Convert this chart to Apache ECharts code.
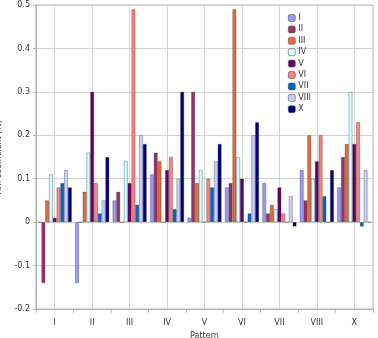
<!DOCTYPE html>
<html>
<head>
<meta charset="utf-8">
<script src="https://cdn.jsdelivr.net/npm/echarts@6/dist/echarts.min.js"></script>
<style>
  html, body { margin: 0; padding: 0; background: #fff; }
  #main { width: 378px; height: 338px; }
</style>
</head>
<body>
<div id="main"></div>
<script>
// 横轴的模式
const patterns = ['I', 'II', 'III', 'IV', 'V', 'VI', 'VII', 'VIII', 'X']
// 每个系列的名称和颜色
const seriesNames = ['I', 'II', 'III', 'IV', 'V', 'VI', 'VII', 'VIII', 'X']
const seriesColors = ['#9999ff', '#993366', '#e8693c', '#ccffff', '#660066', '#ff8080', '#0066cc', '#ccccff', '#000080']

// 各系列在每个模式上的值
const valuesI = [0, -0.14, 0.05, 0.11, 0.01, 0.08, 0.09, 0.12, 0.08]
const valuesII = [-0.14, 0, 0.07, 0.16, 0.30, 0.09, 0.02, 0.05, 0.15]
const valuesIII = [0.05, 0.07, 0, 0.14, 0.09, 0.49, 0.04, 0.20, 0.18]
const valuesIV = [0.11, 0.16, 0.14, 0, 0.12, 0.15, 0.03, 0.10, 0.30]
const valuesV = [0.01, 0.30, 0.09, 0.12, 0, 0.10, 0.08, 0.14, 0.18]
const valuesVI = [0.08, 0.09, 0.49, 0.15, 0.10, 0, 0.02, 0.20, 0.23]
const valuesVII = [0.09, 0.02, 0.04, 0.03, 0.08, 0.02, 0, 0.06, -0.01]
const valuesVIII = [0.12, 0.05, 0.20, 0.10, 0.14, 0.20, 0.06, 0, 0.12]
const valuesX = [0.08, 0.15, 0.18, 0.30, 0.18, 0.23, -0.01, 0.12, 0]

const allValues = [valuesI, valuesII, valuesIII, valuesIV, valuesV, valuesVI, valuesVII, valuesVIII, valuesX]

// 半格的隐藏轴，只用来在每个类目中间画竖网格线
const halfSlots = patterns.flatMap(p => [p + 'a', p + 'b'])

const font = 'DejaVu Sans'
const chart = echarts.init(document.getElementById('main'))

const option = {
  animation: false,
  textStyle: { fontFamily: font },
  grid: {
    left: 36, right: 5, top: 5, bottom: 29,
    outerBoundsMode: 'none',
    containLabel: false,
    show: true, borderColor: '#b3b3b3', borderWidth: 1
  },
  legend: {
    orient: 'vertical',
    left: 283, top: 9,
    itemWidth: 7, itemHeight: 7, itemGap: 3.4,
    textStyle: { fontSize: 8, color: '#333', fontFamily: font, padding: [0, 0, 0, -2] },
    data: seriesNames,
    itemStyle: { borderColor: '#555', borderWidth: 0.6 }
  },
  xAxis: [
    {
      type: 'category',
      data: patterns,
      name: 'Pattern',
      nameLocation: 'middle',
      nameGap: 23,
      nameTextStyle: { fontSize: 8, color: '#333' },
      axisLine: { show: true, onZero: false, lineStyle: { color: '#b3b3b3' } },
      axisTick: { show: true, length: 4, lineStyle: { color: '#b3b3b3' } },
      axisLabel: { fontSize: 8, color: '#333', margin: 10 },
      splitLine: { show: false }
    },
    {
      type: 'category',
      data: halfSlots,
      position: 'bottom',
      axisLine: { show: false },
      axisTick: { show: false },
      axisLabel: { show: false },
      splitLine: {
        show: true,
        interval: (i) => i % 2 === 1,
        lineStyle: { color: '#d4d4d4' }
      }
    }
  ],
  yAxis: {
    type: 'value',
    min: -0.2, max: 0.5, interval: 0.1,
    name: 'Affi coefficient (%)',
    nameLocation: 'middle',
    nameGap: 33,
    nameTextStyle: { fontSize: 8, color: '#333' },
    axisLine: { show: true, lineStyle: { color: '#b3b3b3' } },
    axisTick: { show: true, length: 3, lineStyle: { color: '#b3b3b3' } },
    axisLabel: {
      fontSize: 8, color: '#333', margin: 6,
      formatter: v => String(Math.round(v * 10) / 10)
    },
    splitLine: { show: true, lineStyle: { color: '#d4d4d4' } }
  },
  series: seriesNames.map((name, i) => ({
    name: name,
    type: 'bar',
    xAxisIndex: 0,
    data: allValues[i],
    barGap: '0%',
    barCategoryGap: '9%',
    itemStyle: {
      color: seriesColors[i],
      borderColor: 'rgba(40,40,40,0.55)',
      borderWidth: 0.6
    }
  }))
}

chart.setOption(option)
</script>
</body>
</html>
